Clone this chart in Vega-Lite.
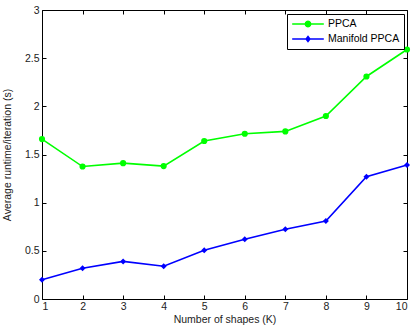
{
  "$schema": "https://vega.github.io/schema/vega-lite/v6.json",
  "width": 365,
  "height": 289,
  "autosize": {"type": "none"},
  "padding": {"left": 42, "top": 10, "right": 7, "bottom": 27},
  "background": "white",
  "config": {
    "view": {"stroke": "black", "strokeWidth": 1},
    "font": "Liberation Sans",
    "axis": {
      "grid": false,
      "domain": false,
      "tickColor": "black",
      "tickSize": -4,
      "tickWidth": 1,
      "labelFont": "Liberation Sans",
      "labelFontSize": 10.5,
      "labelColor": "#222222",
      "titleFont": "Liberation Sans",
      "titleFontSize": 10.5,
      "titleFontWeight": "normal",
      "titleColor": "#222222"
    }
  },
  "data": {
    "values": [
      {"k": 1, "method": "PPCA", "value": 1.66},
      {"k": 2, "method": "PPCA", "value": 1.375},
      {"k": 3, "method": "PPCA", "value": 1.41},
      {"k": 4, "method": "PPCA", "value": 1.38},
      {"k": 5, "method": "PPCA", "value": 1.64},
      {"k": 6, "method": "PPCA", "value": 1.715},
      {"k": 7, "method": "PPCA", "value": 1.74},
      {"k": 8, "method": "PPCA", "value": 1.9},
      {"k": 9, "method": "PPCA", "value": 2.31},
      {"k": 10, "method": "PPCA", "value": 2.59},
      {"k": 1, "method": "Manifold PPCA", "value": 0.2},
      {"k": 2, "method": "Manifold PPCA", "value": 0.32},
      {"k": 3, "method": "Manifold PPCA", "value": 0.39},
      {"k": 4, "method": "Manifold PPCA", "value": 0.34},
      {"k": 5, "method": "Manifold PPCA", "value": 0.505},
      {"k": 6, "method": "Manifold PPCA", "value": 0.62},
      {"k": 7, "method": "Manifold PPCA", "value": 0.725},
      {"k": 8, "method": "Manifold PPCA", "value": 0.81},
      {"k": 9, "method": "Manifold PPCA", "value": 1.27},
      {"k": 10, "method": "Manifold PPCA", "value": 1.39}
    ]
  },
  "encoding": {
    "color": {
      "field": "method", "type": "nominal",
      "scale": {"domain": ["PPCA", "Manifold PPCA"], "range": ["#00ff00", "#0000ff"]},
      "legend": {
        "orient": "top-right",
        "offset": 3.5,
        "title": null,
        "strokeColor": "black",
        "fillColor": "white",
        "padding": 4,
        "symbolSize": 1000,
        "clipHeight": 12,
        "rowPadding": 3,
        "labelOffset": 3,
        "labelFontSize": 10.5,
        "labelColor": "black",
        "labelFont": "Liberation Sans",
        "symbolStrokeWidth": 1.5,
        "cornerRadius": 0,
        "encode": {
          "symbols": {
            "update": {
              "shape": {"signal": "datum.value === 'PPCA' ? 'M-1,0L1,0M0.17,0L0.147,0.085L0.085,0.147L0,0.17L-0.085,0.147L-0.147,0.085L-0.17,0L-0.147,-0.085L-0.085,-0.147L0,-0.17L0.085,-0.147L0.147,-0.085Z' : 'M-1,0L1,0M0,-0.16L0.12,0L0,0.16L-0.12,0Z'"},
              "fill": {"signal": "datum.value === 'PPCA' ? '#00ff00' : '#0000ff'"},
              "stroke": {"signal": "datum.value === 'PPCA' ? '#00ff00' : '#0000ff'"},
              "strokeWidth": {"value": 1.5},
              "opacity": {"value": 1}
            }
          }
        }
      }
    }
  },
  "layer": [
    {
      "mark": {"type": "line", "strokeWidth": 1.6},
      "encoding": {
        "x": {
          "field": "k", "type": "quantitative",
          "scale": {"domain": [1, 10], "nice": false},
          "axis": {"orient": "bottom", "values": [1,2,3,4,5,6,7,8,9,10], "format": "d", "labelPadding": 6, "titlePadding": 3},
          "title": "Number of shapes (K)"
        },
        "y": {
          "field": "value", "type": "quantitative",
          "scale": {"domain": [0, 3], "nice": false},
          "axis": {"orient": "left", "values": [0,0.5,1,1.5,2,2.5,3], "format": "~g", "labelPadding": 7, "titlePadding": 12},
          "title": "Average runtime/iteration (s)"
        }
      }
    },
    {
      "transform": [{"filter": "datum.method === 'PPCA'"}],
      "mark": {"type": "point", "filled": true, "opacity": 1, "size": 38, "shape": "circle"},
      "encoding": {
        "x": {"field": "k", "type": "quantitative", "axis": null},
        "y": {"field": "value", "type": "quantitative", "axis": null}
      }
    },
    {
      "transform": [{"filter": "datum.method === 'Manifold PPCA'"}],
      "mark": {"type": "point", "filled": true, "opacity": 1, "size": 36, "shape": "diamond"},
      "encoding": {
        "x": {
          "field": "k", "type": "quantitative",
          "axis": {"orient": "top", "values": [1,2,3,4,5,6,7,8,9,10], "labels": false, "title": null}
        },
        "y": {
          "field": "value", "type": "quantitative",
          "axis": {"orient": "right", "values": [0,0.5,1,1.5,2,2.5,3], "labels": false, "title": null}
        }
      }
    }
  ],
  "resolve": {"axis": {"x": "independent", "y": "independent"}}
}
